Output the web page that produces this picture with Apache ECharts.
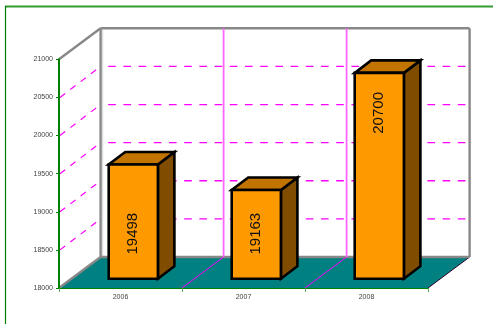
<!DOCTYPE html>
<html><head><meta charset="utf-8">
<style>html,body{margin:0;padding:0;background:#fff}#c{width:493px;height:324px}</style>
<script src="https://cdn.jsdelivr.net/npm/echarts@6/dist/echarts.min.js"></script>
</head><body><div id="c"></div>
<script>
const categories = ['2006', '2007', '2008'];
const values = [19498, 19163, 20700];
const gridValues = [18500, 19000, 19500, 20000, 20500];
const yMin = 18000, yMax = 21000, yStep = 500;

const DX = 41.6, DY = -31;            // depth of the scene
const BAR_W = 49.2, BAR_DX = 16.5, BAR_DY = -12.5; // bar box
const LIFT = -9.3;                    // bars stand inside the floor
const GREEN = '#008000', GREY = '#888888', MAGENTA = '#ff00ff';

const chart = echarts.init(document.getElementById('c'), null, {renderer: 'canvas'});
const line = (x1, y1, x2, y2, style, z2) => ({type: 'line', z2: z2 || 0, shape: {x1, y1, x2, y2}, style});
const poly = (points, fill, z2) => ({type: 'polygon', z2: z2 || 0, shape: {points},
  style: {fill, stroke: '#000', lineWidth: 2.6, lineJoin: 'miter'}});

function renderShell(params, api) {
  const a = api.coord([0, yMin]), t = api.coord([0, yMax]), band = api.size([1, 0])[0];
  const L = a[0] - band / 2, R = L + band * categories.length, B = a[1], T = t[1];
  const g = {stroke: GREY, lineWidth: 2.4};
  const children = [
    line(L + DX + 2, T + DY + 1, L + DX + 2, B + DY, {stroke: '#dddddd', lineWidth: 1.2}),
    {type: 'polygon', shape: {points: [[L, B], [R, B], [R + DX, B + DY], [L + DX, B + DY]]},
     style: {fill: '#008080'}},
    line(R, B, R + DX, B + DY, {stroke: '#300030', lineWidth: 1}),
    line(L, B, L + DX, B + DY, g),
    line(L, T, L + DX, T + DY, g),
    line(L + DX, B + DY, R + DX, B + DY, g),
    line(L + DX, T + DY, R + DX, T + DY, g),
    line(L + DX, T + DY, L + DX, B + DY, g),
    line(R + DX, T + DY, R + DX, B + DY, g)
  ];
  return {type: 'group', children};
}
function renderGridLine(params, api) {
  const p = api.coord([0, api.value(0)]), band = api.size([1, 0])[0];
  const L = p[0] - band / 2, R = L + band * categories.length, y = p[1];
  const s = {stroke: MAGENTA, lineWidth: 1.3, lineDash: [7.6, 7.6]};
  return {type: 'group', children: [
    line(L + DX, y + DY, R + DX, y + DY, Object.assign({lineDashOffset: 7.6}, s)),
    line(L + 1, y, L + DX, y + DY, {stroke: MAGENTA, lineWidth: 1.2, lineDash: [6.5, 6.5]})
  ]};
}
function renderDivider(params, api) {
  const i = params.dataIndex;
  if (i === 0) return null;
  const p = api.coord([i, yMin]), t = api.coord([i, yMax]), band = api.size([1, 0])[0];
  const x = p[0] - band / 2;
  return {type: 'group', children: [
    line(x, p[1], x + DX, p[1] + DY, {stroke: MAGENTA, lineWidth: 1}),
    line(x + DX, t[1] + DY, x + DX, p[1] + DY, {stroke: '#ff66ff', lineWidth: 1.8})
  ]};
}
function renderBar(params, api) {
  const i = params.dataIndex, v = api.value(1);
  const b = api.coord([i, yMin]), t = api.coord([i, v]);
  const x0 = b[0] - 11.8, x1 = x0 + BAR_W, y0 = b[1] + LIFT, y1 = t[1] + LIFT;
  const h = y0 - y1;
  const cy = h < 150 ? y0 - 45 : y1 + 40;
  return {type: 'group', children: [
    poly([[x1, y0], [x1 + BAR_DX, y0 + BAR_DY], [x1 + BAR_DX, y1 + BAR_DY], [x1, y1]], '#7f4c00'),
    poly([[x0, y1], [x1, y1], [x1 + BAR_DX, y1 + BAR_DY], [x0 + BAR_DX, y1 + BAR_DY]], '#c27400'),
    poly([[x0, y0], [x1, y0], [x1, y1], [x0, y1]], '#ff9900', 1),
    {type: 'text', z2: 2, rotation: Math.PI / 2, x: (x0 + x1) / 2, y: cy,
     style: {text: String(v), font: '15px "Liberation Sans"', fill: '#111', align: 'center', verticalAlign: 'middle'}}
  ]};
}

const axisText = {fontFamily: 'Liberation Sans', fontSize: 7, color: '#444'};
chart.setOption({
  animation: false,
  backgroundColor: '#fff',
  grid: {left: 59, top: 59.3, width: 369, height: 228.7, containLabel: false},
  xAxis: {type: 'category', data: categories, boundaryGap: true, z: 10,
    axisLine: {lineStyle: {color: GREEN, width: 1}},
    axisTick: {show: true, alignWithLabel: false, length: 4, lineStyle: {color: '#55aa55', width: 1}},
    axisLabel: Object.assign({margin: 6, interval: 0}, axisText),
    splitLine: {show: false}},
  yAxis: {type: 'value', min: yMin, max: yMax, interval: yStep, z: 10,
    axisLine: {show: true, onZero: false, lineStyle: {color: GREEN, width: 2}},
    axisTick: {show: true, length: 3, lineStyle: {color: GREEN, width: 1}},
    axisLabel: Object.assign({margin: 6, formatter: v => String(v)}, axisText),
    splitLine: {show: false}},
  graphic: [
    {type: 'line', shape: {x1: 5, y1: 6.5, x2: 493, y2: 6.5}, style: {stroke: '#339933', lineWidth: 2}},
    {type: 'line', shape: {x1: 5.5, y1: 6, x2: 5.5, y2: 324}, style: {stroke: GREEN, lineWidth: 1.2}}
  ],
  series: [
    {type: 'custom', name: 'shell', z: 1, clip: false, coordinateSystem: 'cartesian2d',
     data: [[0, yMin]], renderItem: renderShell, silent: true},
    {type: 'custom', name: 'grid', z: 2, clip: false, coordinateSystem: 'cartesian2d',
     data: gridValues.map(v => [v]), encode: {y: 0}, renderItem: renderGridLine, silent: true},
    {type: 'custom', name: 'dividers', z: 3, clip: false, coordinateSystem: 'cartesian2d',
     data: categories.map((c, i) => [i, yMin]), renderItem: renderDivider, silent: true},
    {type: 'custom', name: 'bars', z: 4, clip: false, coordinateSystem: 'cartesian2d',
     data: values.map((v, i) => [i, v]), renderItem: renderBar}
  ]
});
</script></body></html>
